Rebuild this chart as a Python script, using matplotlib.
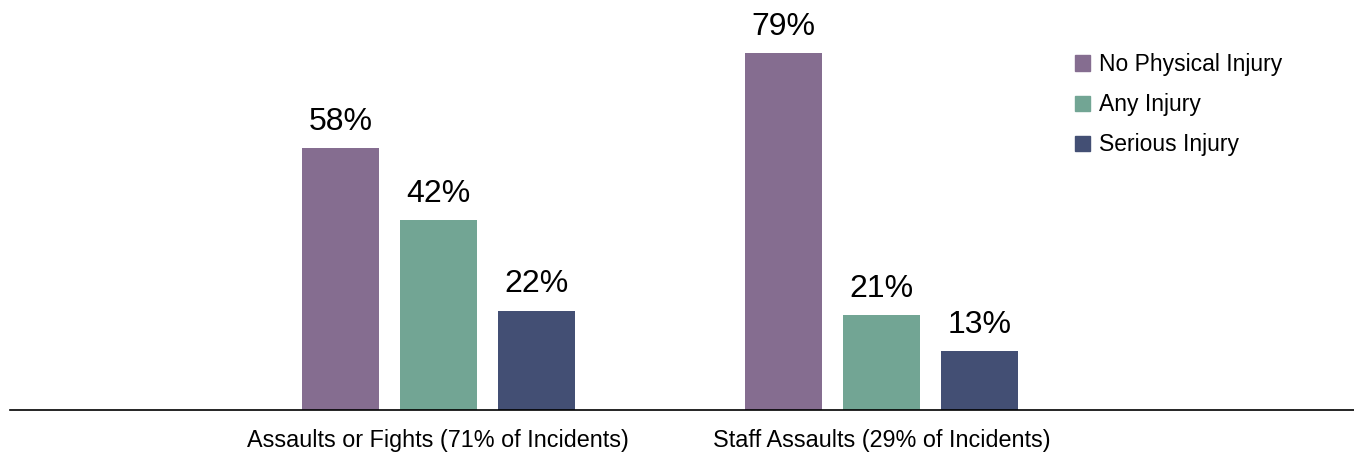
import numpy as np
import matplotlib.pyplot as plt
from matplotlib.patches import Patch

plt.rcParams['font.family'] = ['Liberation Sans', 'DejaVu Sans']

# incident types and injury outcome shares (%)
categories = ["Assaults or Fights (71% of Incidents)", "Staff Assaults (29% of Incidents)"]
series_names = ["No Physical Injury", "Any Injury", "Serious Injury"]
no_injury = [58, 79]
any_injury = [42, 21]
serious_injury = [22, 13]
colors = ["#856d90", "#72a594", "#434f74"]

values = [no_injury, any_injury, serious_injury]

fig = plt.figure(figsize=(13.54, 4.54), dpi=100)
ax = fig.add_axes([10 / 1354, 44 / 454, 1 - 10 / 1354, 1 - 44 / 454])

x = np.arange(len(categories))
width = 0.174
step = 0.221

for i, (vals, col) in enumerate(zip(values, colors)):
    pos = x + (i - 1) * step
    bars = ax.bar(pos, vals, width, color=col, label=series_names[i])
    for b, v in zip(bars, vals):
        ax.text(b.get_x() + b.get_width() / 2, v + 4.0, f"{v}%",
                ha="center", va="baseline", fontsize=23)

ax.set_xlim(-0.967, 2.067)
ax.set_ylim(0, 90.7)
ax.set_xticks(x)
ax.set_xticklabels(categories, fontsize=16.8)
ax.tick_params(axis="x", length=0, pad=14)
ax.set_yticks([])
for s in ["top", "right", "left"]:
    ax.spines[s].set_visible(False)
ax.spines["bottom"].set_linewidth(1.2)

handles = [Patch(color=c) for c in colors]
ax.legend(handles, series_names, loc="upper left", bbox_to_anchor=(0.7857, 0.893),
          frameon=False, fontsize=16.5, handlelength=0.65, handleheight=0.65,
          handletextpad=0.39, labelspacing=0.75, borderaxespad=0)

fig.savefig("out.png", dpi=100)
